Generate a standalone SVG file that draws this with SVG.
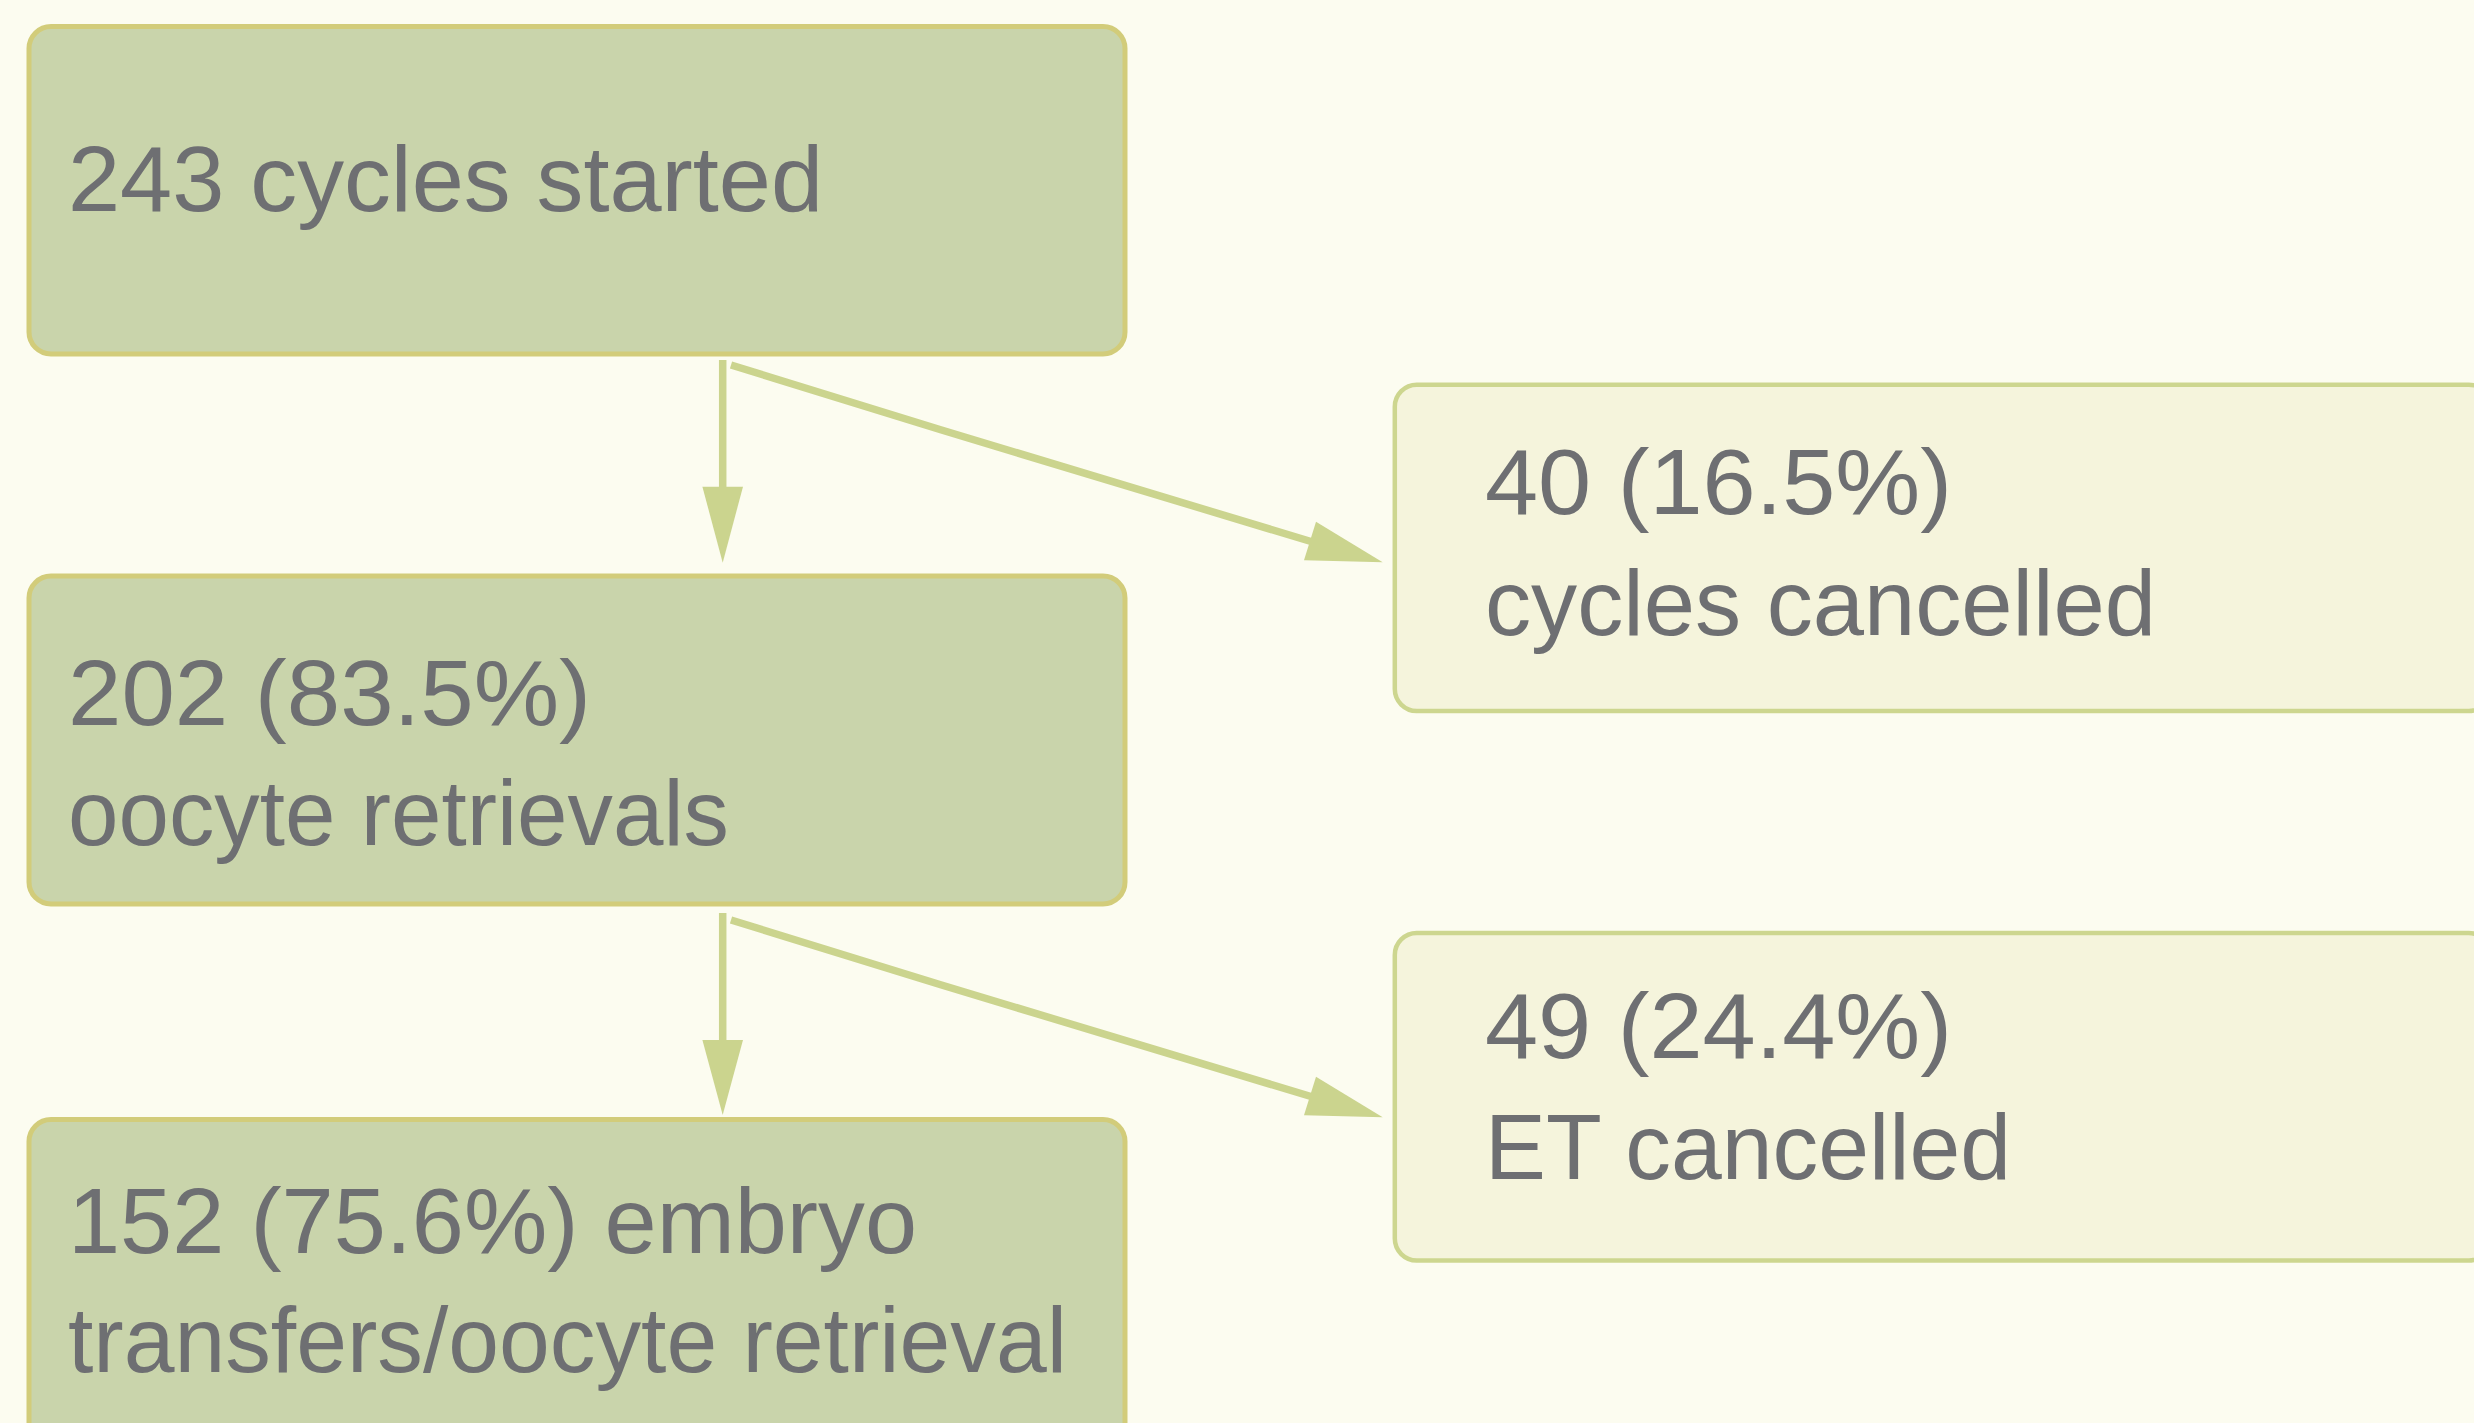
<svg xmlns="http://www.w3.org/2000/svg" width="2474" height="1423" viewBox="0 0 2474 1423">
<defs>
<style>
.main rect{fill:#c9d4ab;stroke:#d2cc7a;stroke-width:5}
.side rect{fill:#f5f4dc;stroke:#cdd68f;stroke-width:4.5}
text{font-family:"Liberation Sans",Arial,Helvetica,sans-serif;font-size:92px;fill:#6e6f72}
.edge{fill:none;stroke:#cbd48e;stroke-width:7.5}
.head{fill:#cbd48e;stroke:none}
</style>
</defs>
<rect x="0" y="0" width="2474" height="1423" fill="#fcfcf0"/>
<g id="connectors">
<line class="edge" x1="722.7" y1="360" x2="722.7" y2="488"/>
<polygon class="head" points="702.4,486.7 743,486.7 722.7,562.7"/>
<path class="edge" d="M731,365 C924,425 1117,484 1311,541.5"/>
<polygon class="head" points="1316,521.7 1304,560.3 1382.7,562.3"/>
<line class="edge" x1="722.7" y1="913" x2="722.7" y2="1041"/>
<polygon class="head" points="702.4,1040 743,1040 722.7,1115"/>
<path class="edge" d="M731,920 C924,980 1117,1039 1311,1096.5"/>
<polygon class="head" points="1316,1076.7 1304,1115.3 1382.7,1117.3"/>
</g>
<g id="node-started" class="main">
<rect x="29" y="26.5" width="1096" height="327.5" rx="22" ry="22"/>
<text x="68" y="211" textLength="755" lengthAdjust="spacingAndGlyphs">243 cycles started</text>
</g>
<g id="node-retrievals" class="main">
<rect x="29" y="576" width="1096" height="328" rx="22" ry="22"/>
<text x="68" y="725" textLength="523" lengthAdjust="spacingAndGlyphs">202 (83.5%)</text>
<text x="68" y="845" textLength="661" lengthAdjust="spacingAndGlyphs">oocyte retrievals</text>
</g>
<g id="node-transfers" class="main">
<rect x="29" y="1119.5" width="1096" height="340" rx="22" ry="22"/>
<text x="68" y="1253" textLength="849" lengthAdjust="spacingAndGlyphs">152 (75.6%) embryo</text>
<text x="68" y="1372" textLength="999" lengthAdjust="spacingAndGlyphs">transfers/oocyte retrieval</text>
</g>
<g id="node-cycles-cancelled" class="side">
<rect x="1394.8" y="384.7" width="1096" height="326.3" rx="22" ry="22"/>
<text x="1485" y="514" textLength="467" lengthAdjust="spacingAndGlyphs">40 (16.5%)</text>
<text x="1485" y="635" textLength="671" lengthAdjust="spacingAndGlyphs">cycles cancelled</text>
</g>
<g id="node-et-cancelled" class="side">
<rect x="1394.8" y="933" width="1096" height="327.5" rx="22" ry="22"/>
<text x="1485" y="1058" textLength="467" lengthAdjust="spacingAndGlyphs">49 (24.4%)</text>
<text x="1485" y="1179" textLength="526" lengthAdjust="spacingAndGlyphs">ET cancelled</text>
</g>
</svg>
